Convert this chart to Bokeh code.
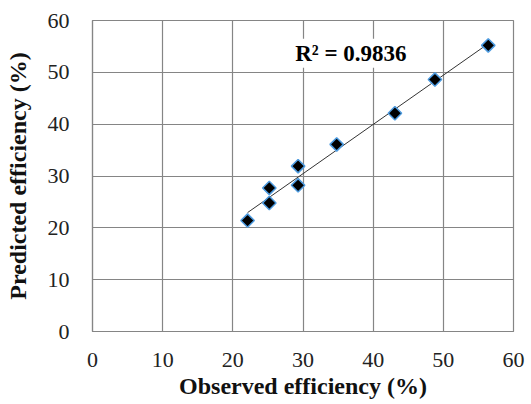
import numpy as np
from bokeh.plotting import figure
from bokeh.models import Range1d, FixedTicker, ColumnDataSource, Label
from bokeh.embed import file_html
from bokeh.resources import INLINE

# Observed vs. predicted efficiency (%)
observed = [22.1, 25.2, 25.2, 29.3, 29.3, 34.8, 43.1, 48.8, 56.4]
predicted = [21.4, 24.8, 27.7, 28.2, 31.9, 36.1, 42.1, 48.6, 55.2]
axis_ticks = [0, 10, 20, 30, 40, 50, 60]
r2_text = "R\u00b2 = 0.9836"

FONT = "Liberation Serif"
GRID = "#858585"

p = figure(width=531, height=404, output_backend="svg", toolbar_location=None,
           x_range=Range1d(0, 60), y_range=Range1d(0, 60),
           min_border_left=92, min_border_right=18,
           min_border_top=20, min_border_bottom=73)
p.background_fill_color = "white"
p.border_fill_color = "white"
p.outline_line_color = GRID
p.outline_line_width = 1.2

for ax in (p.xaxis[0], p.yaxis[0]):
    ax.ticker = FixedTicker(ticks=axis_ticks)
    ax.major_tick_line_color = None
    ax.minor_tick_line_color = None
    ax.axis_line_color = GRID
    ax.axis_line_width = 1.2
    ax.major_label_text_font = FONT
    ax.major_label_text_font_size = "22px"
    ax.major_label_text_color = "#222222"
    ax.axis_label_text_font = FONT
    ax.axis_label_text_font_size = "24px"
    ax.axis_label_text_font_style = "bold"
    ax.axis_label_text_color = "#111111"

p.xaxis.axis_label = "Observed efficiency (%)"
p.yaxis.axis_label = "Predicted efficiency (%)"
p.xaxis.major_label_standoff = 15
p.xaxis.axis_label_standoff = 3
p.yaxis.major_label_standoff = 17
p.yaxis.axis_label_standoff = 14

for g in (p.xgrid[0], p.ygrid[0]):
    g.ticker = FixedTicker(ticks=axis_ticks)
    g.grid_line_color = GRID
    g.grid_line_width = 1.2

# Least-squares trendline over the observed range
slope, intercept = np.polyfit(observed, predicted, 1)
xs = np.array([min(observed), max(observed)])
p.line(xs, slope * xs + intercept, line_color="#333333", line_width=1)

src = ColumnDataSource(dict(x=observed, y=predicted))
p.scatter("x", "y", source=src, marker="square", angle=np.pi / 4, size=9.5,
          fill_color="black", line_color="#4d9be0", line_width=1.5)

p.add_layout(Label(x=28.6, y=53.7, text=r2_text, text_font=FONT,
                   text_font_size="23px", text_font_style="bold",
                   text_color="black", text_baseline="middle",
                   background_fill_color="white", padding=2))

open("out.html", "w").write(file_html(p, INLINE))
